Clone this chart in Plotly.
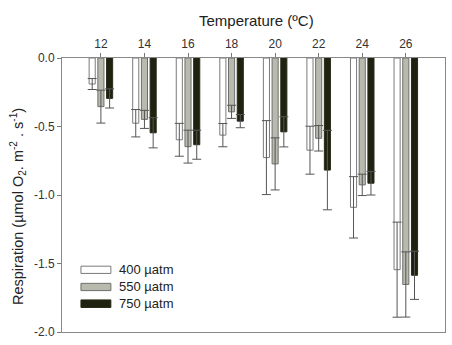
import plotly.graph_objects as go

temps = [12, 14, 16, 18, 20, 22, 24, 26]
series_names = ["400 µatm", "550 µatm", "750 µatm"]
resp_400 = [-0.19, -0.476, -0.597, -0.563, -0.727, -0.673, -1.09, -1.545]
err_400 = [0.04, 0.10, 0.12, 0.085, 0.27, 0.175, 0.224, 0.347]
resp_550 = [-0.355, -0.448, -0.647, -0.393, -0.773, -0.586, -0.926, -1.653]
err_550 = [0.12, 0.066, 0.12, 0.048, 0.19, 0.093, 0.078, 0.238]
resp_750 = [-0.295, -0.546, -0.633, -0.461, -0.539, -0.818, -0.914, -1.586]
err_750 = [0.07, 0.11, 0.106, 0.048, 0.11, 0.29, 0.086, 0.176]
y_ticks = [0.0, -0.5, -1.0, -1.5, -2.0]
y_ticktext = ["0.0", "-0.5", "-1.0", "-1.5", "-2.0"]

fills = ["#ffffff", "#b8baae", "#1f220f"]
outlines = ["#7a7a7a", "#6e6e6e", "#2a2a1a"]

fig = go.Figure()
for name, vals, errs, fc, lc in zip(series_names, [resp_400, resp_550, resp_750],
                                    [err_400, err_550, err_750], fills, outlines):
    fig.add_trace(go.Bar(
        x=temps, y=vals, name=name,
        marker=dict(color=fc, line=dict(color=lc, width=1)),
        error_y=dict(type="data", array=errs, symmetric=True,
                     color="#555555", thickness=1, width=4.5),
        showlegend=False,
    ))

font_family = "Liberation Sans, Arial, sans-serif"
fig.update_layout(
    width=452, height=345,
    margin=dict(l=62, r=6, t=58, b=11),
    paper_bgcolor="white", plot_bgcolor="white",
    barmode="group", bargap=0.4, bargroupgap=0.3,
    font=dict(family=font_family, size=12, color="#333333"),
    xaxis=dict(
        side="top", range=[10.214, 27.8], tickvals=temps,
        ticktext=[str(t) for t in temps],
        ticks="outside", ticklen=4, tickcolor="#777777",
        showline=True, linecolor="#888888", linewidth=1, mirror=True,
        showgrid=False, zeroline=False,
        tickfont=dict(size=12, color="#333333"),
    ),
    yaxis=dict(
        range=[-2.0, 0.0], tickvals=y_ticks, ticktext=y_ticktext,
        ticks="outside", ticklen=4, tickcolor="#777777",
        showline=True, linecolor="#888888", linewidth=1, mirror=True,
        showgrid=False, zeroline=False,
        tickfont=dict(size=12, color="#333333"),
    ),
)

W = 384.0
H = 276.0
def px(x):
    return (x - 62) / W
def py(y):
    return (334 - y) / H

# title annotations
fig.add_annotation(text="Temperature (ºC)", xref="paper", yref="paper",
                   x=px(257), y=py(20), xanchor="center", yanchor="middle",
                   showarrow=False, font=dict(size=15, color="#222222"))
fig.add_annotation(text="Respiration (µmol O<sub>2</sub>. m<sup>-2</sup> . s<sup>-1</sup>)",
                   xref="paper", yref="paper", x=px(18), y=py(208),
                   xanchor="center", yanchor="middle", textangle=-90,
                   showarrow=False, font=dict(size=14.5, color="#222222"))

# legend drawn manually (wide swatches)
leg_rows = [(267.7, 275.0), (285.0, 292.3), (301.7, 309.3)]
for (y0, y1), name, fc, lc in zip(leg_rows, series_names, fills, outlines):
    fig.add_shape(type="rect", xref="paper", yref="paper",
                  x0=px(81), x1=px(111), y0=py(y1), y1=py(y0),
                  fillcolor=fc, line=dict(color=lc, width=1))
    fig.add_annotation(text=name, xref="paper", yref="paper",
                       x=px(117), y=py((y0 + y1) / 2), xanchor="left",
                       yanchor="middle", showarrow=False,
                       font=dict(size=13, color="#222222"))

fig.write_html("out.html")
